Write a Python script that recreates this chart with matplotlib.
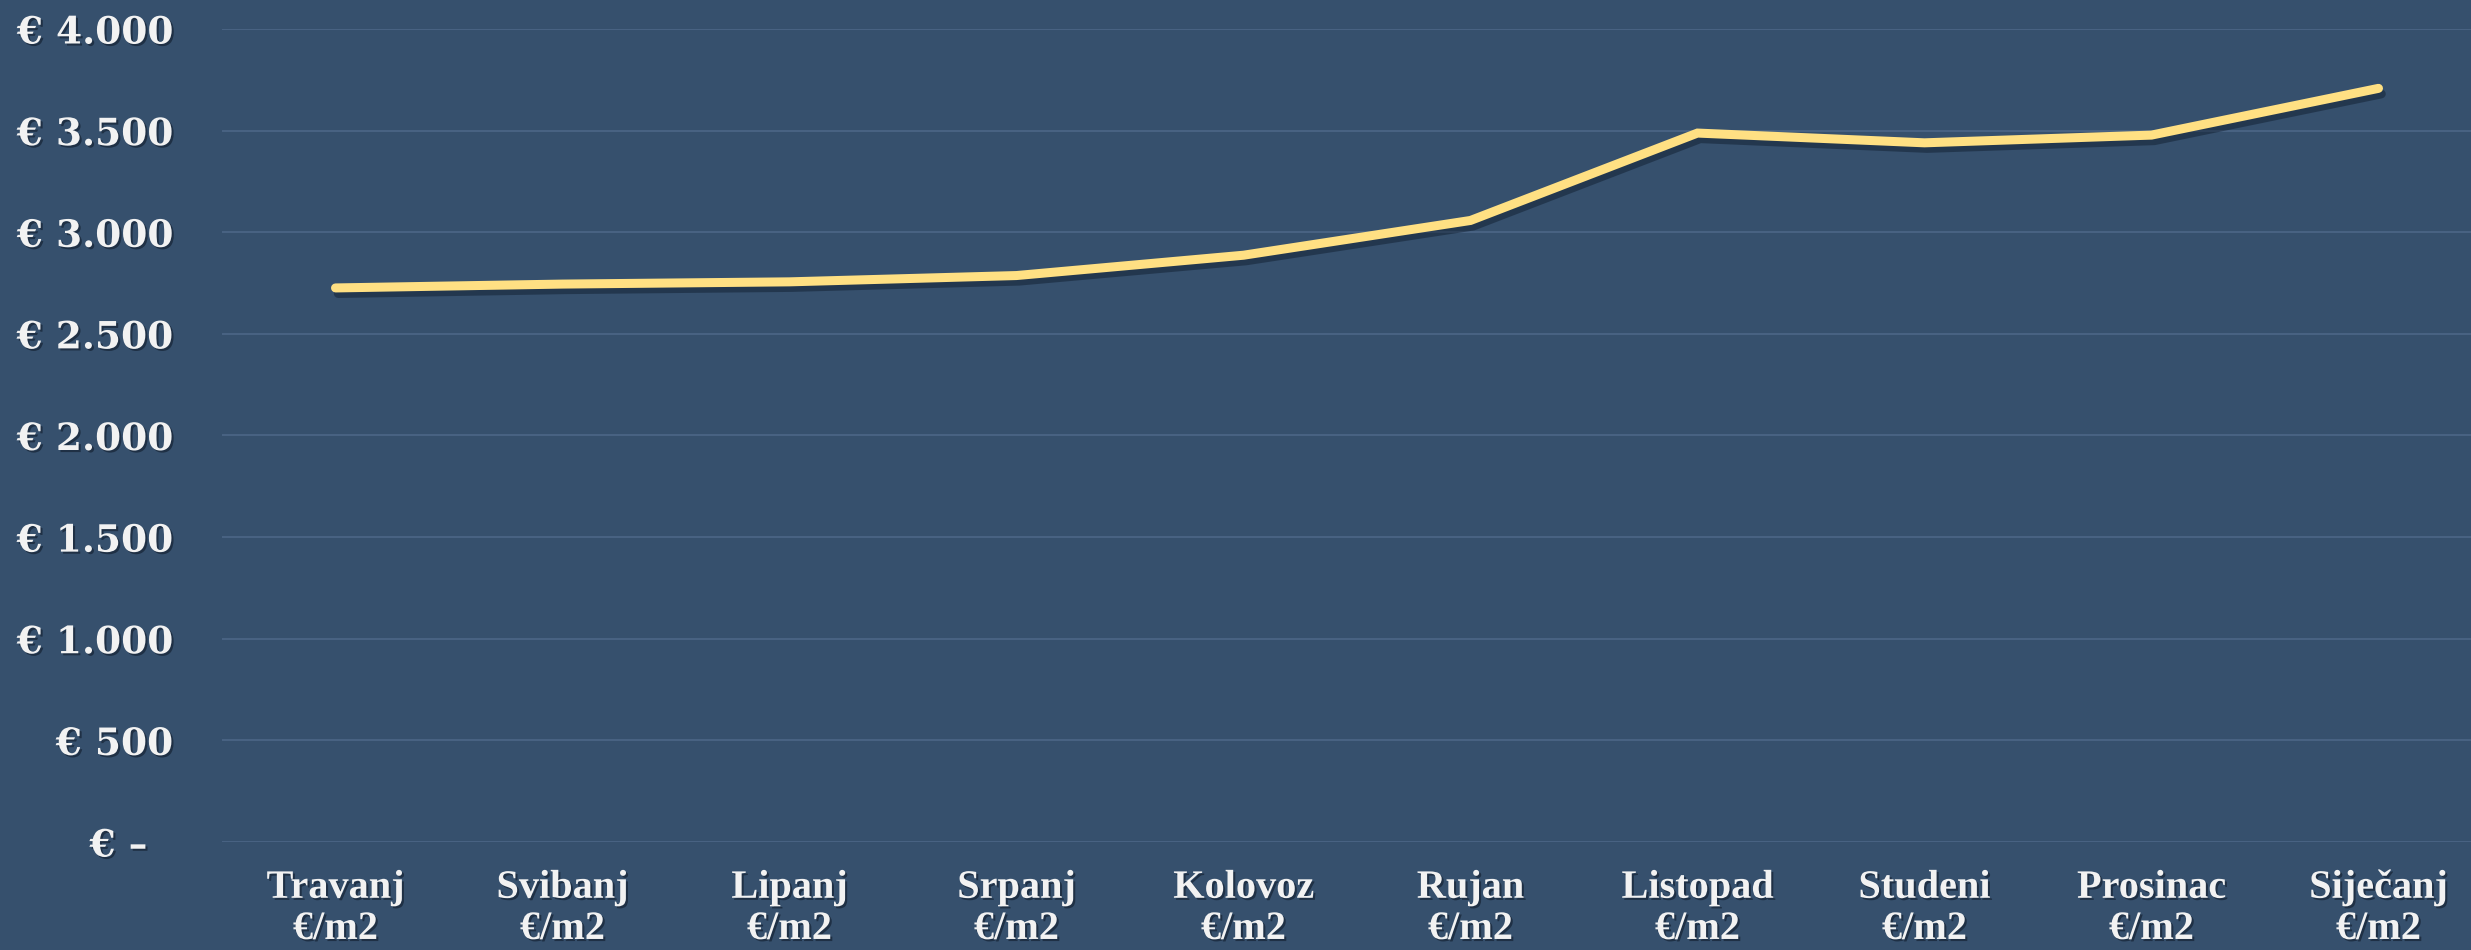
import matplotlib
matplotlib.use('Agg')
import matplotlib.pyplot as plt
import matplotlib.patheffects as pe
from matplotlib.ticker import FuncFormatter

months = ["Travanj", "Svibanj", "Lipanj", "Srpanj", "Kolovoz",
          "Rujan", "Listopad", "Studeni", "Prosinac", "Siječanj"]
price_m2 = [2726, 2745, 2756, 2787, 2887, 3058, 3488, 3440, 3478, 3708]
y_ticks = [0, 500, 1000, 1500, 2000, 2500, 3000, 3500, 4000]

bg_color = '#36506d'
grid_color = '#4b6485'
line_color = '#ffe083'
text_color = '#f2f2f2'

fig = plt.figure(figsize=(24.71, 9.5), dpi=100)
fig.patch.set_facecolor(bg_color)
ax = fig.add_axes([222 / 2471, 108 / 950, 2270 / 2471, 813 / 950])
ax.set_facecolor(bg_color)

x = list(range(len(months)))
ax.plot(x, price_m2, color=line_color, linewidth=6.5, solid_capstyle='round',
        solid_joinstyle='miter', zorder=3,
        path_effects=[pe.SimpleLineShadow(offset=(2, -4), shadow_color='#0d1a2a', alpha=0.45),
                      pe.Normal()])

ax.set_xlim(-0.5, len(months) - 0.5)
ax.set_ylim(0, 4000)
ax.set_yticks(y_ticks)
ax.yaxis.grid(True, color=grid_color, linewidth=1.3)
ax.set_axisbelow(True)
for s in ax.spines.values():
    s.set_visible(False)


def euro(v, pos):
    # accounting style: zero shown as a dash, padded on the right
    if v == 0:
        return '€ –  '
    return '€ ' + f'{int(v):,}'.replace(',', '.')


ax.yaxis.set_major_formatter(FuncFormatter(euro))
ax.set_xticks(x)
ax.set_xticklabels([m + '\n€/m2' for m in months], linespacing=1.15)
ax.tick_params(axis='both', length=0, colors=text_color)
ax.tick_params(axis='y', pad=35)
ax.tick_params(axis='x', pad=20)

shadow = [pe.withSimplePatchShadow(offset=(1.5, -1.5), shadow_rgbFace='#101c2b', alpha=0.6)]
for lab in ax.get_yticklabels():
    lab.set_fontfamily(['DejaVu Serif'])
    lab.set_fontweight('bold')
    lab.set_fontsize(27)
    lab.set_path_effects(shadow)
for lab in ax.get_xticklabels():
    lab.set_fontfamily(['Liberation Serif', 'DejaVu Serif'])
    lab.set_fontweight('bold')
    lab.set_fontsize(29)
    lab.set_path_effects(shadow)

fig.savefig('out.png', dpi=100, facecolor=bg_color)
